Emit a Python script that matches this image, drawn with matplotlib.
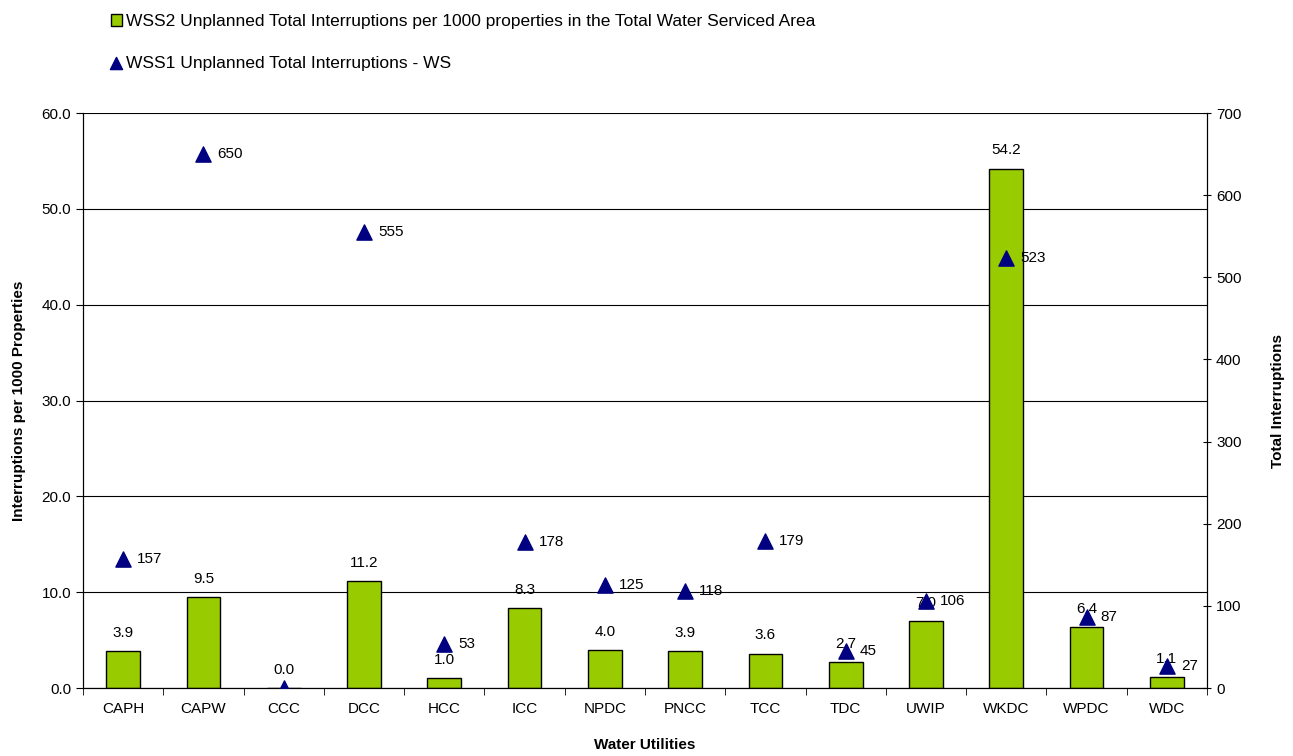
import matplotlib
matplotlib.use("Agg")
import matplotlib.pyplot as plt
import numpy as np

plt.rcParams["font.family"] = ["Liberation Sans", "DejaVu Sans"]

utilities = ["CAPH", "CAPW", "CCC", "DCC", "HCC", "ICC", "NPDC", "PNCC",
             "TCC", "TDC", "UWIP", "WKDC", "WPDC", "WDC"]
per_1000 = [3.9, 9.5, 0.0, 11.2, 1.0, 8.3, 4.0, 3.9, 3.6, 2.7, 7.0, 54.2, 6.4, 1.1]
total_ws = [157, 650, 0, 555, 53, 178, 125, 118, 179, 45, 106, 523, 87, 27]

bar_label = "WSS2 Unplanned Total Interruptions per 1000 properties in the Total Water Serviced Area"
tri_label = "WSS1 Unplanned Total Interruptions - WS"

fig = plt.figure(figsize=(12.93, 7.56), dpi=100)
ax = fig.add_axes([0.0642, 0.0899, 0.8693, 0.7606])
x = np.arange(len(utilities))

ax.yaxis.grid(True, color="black", linewidth=0.8)
ax.set_axisbelow(True)
bars = ax.bar(x, per_1000, width=0.42, color="#99CC00", edgecolor="black",
              linewidth=1.0, zorder=2, label=bar_label)
for xi, v in zip(x, per_1000):
    ax.annotate(f"{v:.1f}", (xi, v), xytext=(0, 8), textcoords="offset points",
                ha="center", va="bottom", fontsize=11, zorder=3)

ax.set_xlim(-0.5, len(utilities) - 0.5)
ax.set_ylim(0, 60)
ax.set_yticks(np.arange(0, 61, 10))
ax.set_yticklabels([f"{t:.1f}" for t in np.arange(0, 61, 10)], fontsize=11)
ax.set_xticks(x)
ax.set_xticklabels(utilities, fontsize=11)
ax.set_xticks(np.arange(-0.5, len(utilities)), minor=True)
ax.tick_params(axis="x", which="major", length=0, pad=10)
ax.tick_params(axis="x", which="minor", length=5, direction="out")
ax.tick_params(axis="y", length=5, direction="out")
ax.set_xlabel("Water Utilities", fontsize=11, fontweight="bold", labelpad=16)
ax.set_ylabel("Interruptions per 1000 Properties", fontsize=11, fontweight="bold", labelpad=11)
ax.spines["top"].set_visible(False)

ax2 = ax.twinx()
tri = ax2.scatter(x, total_ws, marker="^", s=120, color="#000080", zorder=4,
                  label=tri_label)
for xi, v in zip(x, total_ws):
    if v == 0:
        continue
    ax2.annotate(f"{v}", (xi, v), xytext=(10, 0), textcoords="offset points",
                 ha="left", va="center", fontsize=11, zorder=5)
ax2.set_ylim(0, 700)
ax2.set_yticks(np.arange(0, 701, 100))
ax2.tick_params(axis="y", length=6, direction="inout", labelsize=11)
ax2.set_ylabel("Total Interruptions", fontsize=11, fontweight="bold", labelpad=21)
ax2.spines["top"].set_visible(False)

fig.legend(handles=[bars, tri], loc="upper left", bbox_to_anchor=(0.078, 0.995),
           frameon=False, fontsize=12.5, labelspacing=1.5, handlelength=0.6,
           handletextpad=0.25, borderaxespad=0.2, markerscale=0.8)

fig.savefig("out.png", dpi=100)
